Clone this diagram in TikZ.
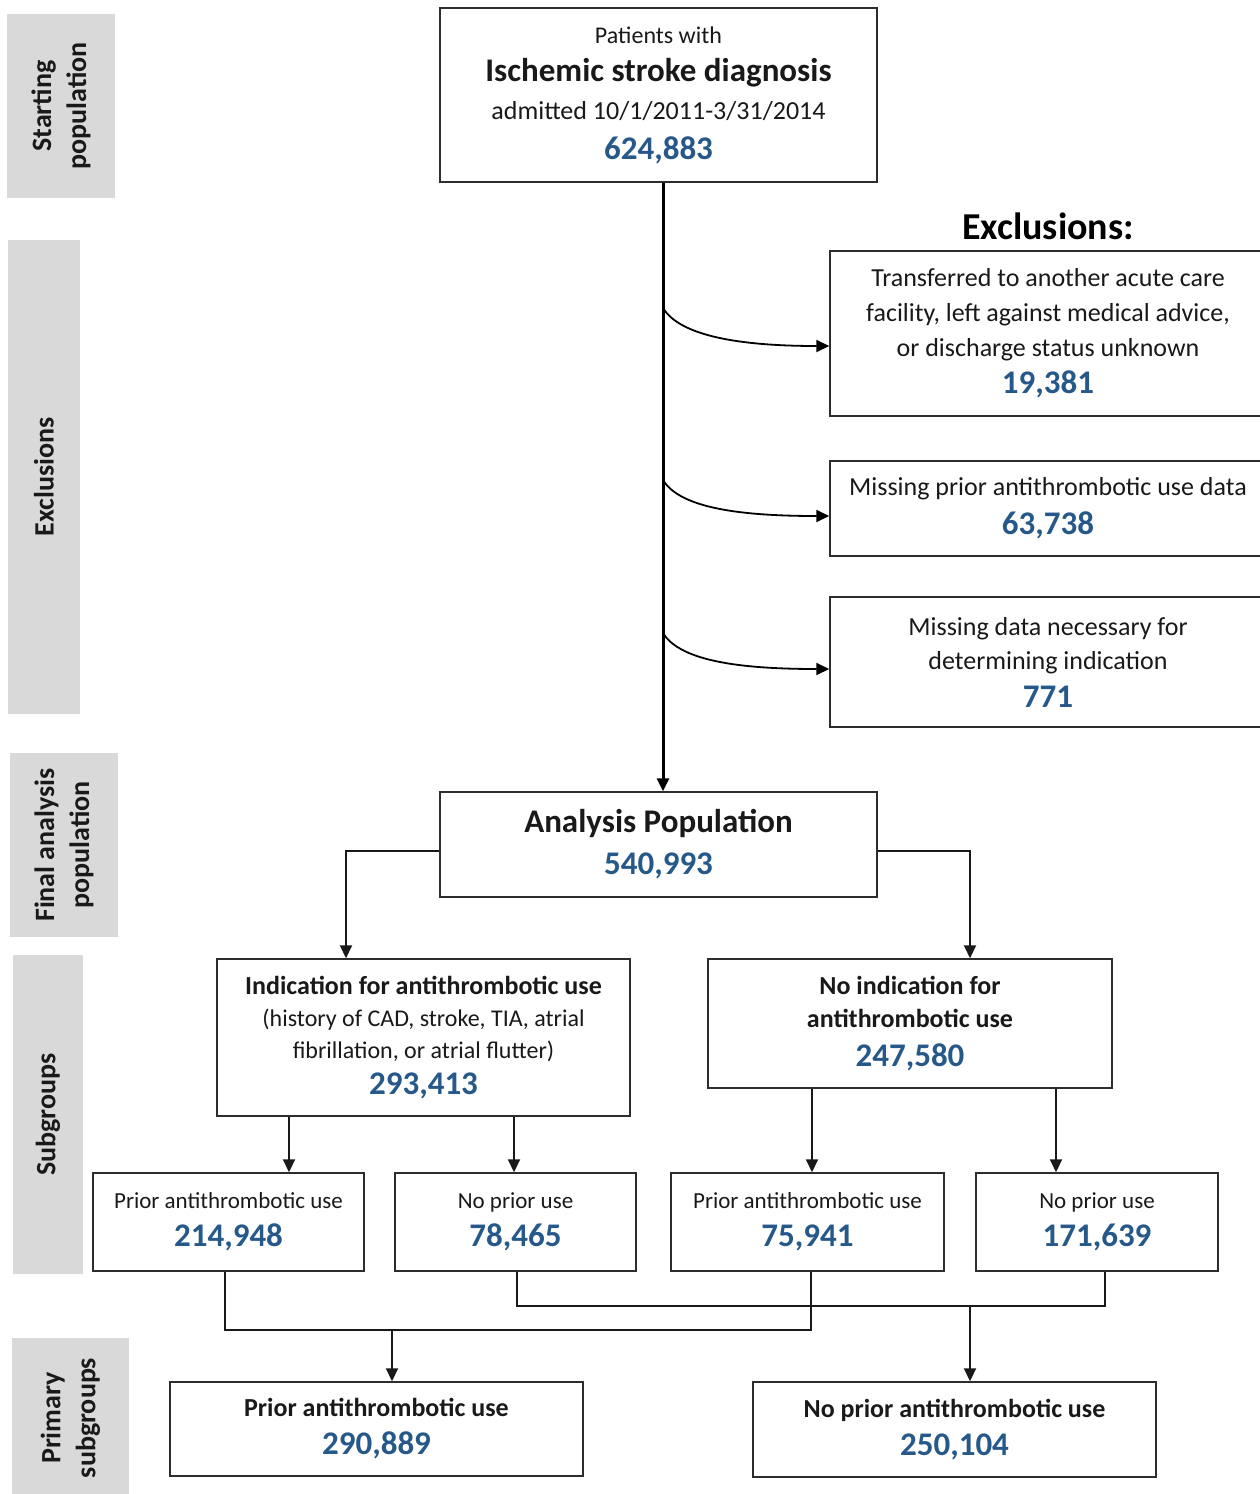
\documentclass[tikz,border=0pt]{standalone}
\usepackage{fontspec}
\setmainfont{Carlito}
\usetikzlibrary{arrows.meta}
\definecolor{numblue}{RGB}{38,89,138}
\definecolor{sidegray}{RGB}{217,217,217}
\definecolor{boxline}{RGB}{45,45,45}
\definecolor{txt}{RGB}{25,25,25}
\newcommand\bignum[1]{{\fontsize{33}{33}\selectfont\bfseries\color{numblue}#1}}
\newcommand\regnum[1]{{\fontsize{33}{33}\selectfont\color{numblue}#1}}
\begin{document}
\begin{tikzpicture}[x=1pt,y=-1pt,
  box/.style={draw=boxline, line width=1.5pt, fill=white, align=center, inner sep=0pt, text=txt},
  side/.style={fill=sidegray, rotate=90, align=center, inner sep=0pt, font=\fontsize{28}{35}\selectfont\bfseries, text=txt},
  conn/.style={line width=2pt, draw=black!90},
  arr/.style={conn, -{Triangle[length=13pt,width=12pt]}},
  mainarr/.style={line width=3pt, draw=black, -{Triangle[length=13pt,width=12pt]}},
  curvarr/.style={line width=1.8pt, draw=black, -{Triangle[length=13pt,width=12pt]}},
]
\fill[white] (0,0) rectangle (1259,1494);
\useasboundingbox (0,0) rectangle (1259,1494);

% side labels
\node[side, minimum width=184pt, minimum height=108pt] (s1) at (61,106) {Starting\\population};
\node[side, minimum width=474pt, minimum height=72pt] (s2) at (44,477) {Exclusions};
\node[side, minimum width=184pt, minimum height=108pt] (s3) at (64,845) {Final analysis\\population};
\node[side, minimum width=319pt, minimum height=70pt] (s4) at (48,1114.5) {Subgroups};
\node[side, minimum width=160pt, minimum height=117pt] (s5) at (70.5,1418) {Primary\\subgroups};

% main boxes
\node[box, minimum width=437pt, minimum height=174pt, font=\fontsize{25}{38}\selectfont] (top) at (658.5,95)
  {{\fontsize{24}{24}\selectfont Patients with}\\
   {\fontsize{33}{33}\selectfont\bfseries Ischemic stroke diagnosis}\\
   {\fontsize{26}{26}\selectfont admitted 10/1/2011-3/31/2014}\\[2pt]
   \bignum{624,883}};

\node[font=\fontsize{38}{38}\selectfont\bfseries, text=black, inner sep=0pt] (exh) at (1048,226) {Exclusions:};

\node[box, minimum width=436pt, minimum height=165pt, font=\fontsize{26}{35}\selectfont] (ex1) at (1048,333.5)
  {Transferred to another acute care\\facility, left against medical advice,\\or discharge status unknown\\[2pt]\bignum{19,381}};
\node[box, minimum width=436pt, minimum height=95pt, font=\fontsize{26}{39}\selectfont] (ex2) at (1048,508.5)
  {Missing prior antithrombotic use data\\\bignum{63,738}};
\node[box, minimum width=436pt, minimum height=130pt, font=\fontsize{26}{34}\selectfont] (ex3) at (1048,662)
  {Missing data necessary for\\determining indication\\[4pt]\bignum{771}};

\node[box, minimum width=437pt, minimum height=105pt, font=\fontsize{33}{42}\selectfont] (anal) at (658.5,844.5)
  {{\bfseries Analysis Population}\\\bignum{540,993}};

\node[box, minimum width=413pt, minimum height=157pt, font=\fontsize{24}{32}\selectfont] (ind) at (423.5,1037.5)
  {{\fontsize{26}{26}\selectfont\bfseries Indication for antithrombotic use}\\
   (history of CAD, stroke, TIA, atrial\\
   fibrillation, or atrial flutter)\\[4pt]
   \bignum{293,413}};
\node[box, minimum width=404pt, minimum height=129pt, font=\fontsize{26}{33}\selectfont\bfseries] (noind) at (910,1023.5)
  {No indication for\\antithrombotic use\\[6pt]\bignum{247,580}};

\node[box, minimum width=271pt, minimum height=98pt, font=\fontsize{23}{38}\selectfont] (a) at (228.5,1222)
  {Prior antithrombotic use\\\bignum{214,948}};
\node[box, minimum width=241pt, minimum height=98pt, font=\fontsize{23}{38}\selectfont] (b) at (515.5,1222)
  {No prior use\\\bignum{78,465}};
\node[box, minimum width=273pt, minimum height=98pt, font=\fontsize{23}{38}\selectfont] (c) at (807.5,1222)
  {Prior antithrombotic use\\\bignum{75,941}};
\node[box, minimum width=242pt, minimum height=98pt, font=\fontsize{23}{38}\selectfont] (d) at (1097,1222)
  {No prior use\\\bignum{171,639}};

\node[box, minimum width=413pt, minimum height=94pt, font=\fontsize{26}{38}\selectfont\bfseries] (prior) at (376.5,1429)
  {Prior antithrombotic use\\\regnum{290,889}};
\node[box, minimum width=403pt, minimum height=95pt, font=\fontsize{26}{38}\selectfont\bfseries] (noprior) at (954.5,1429.5)
  {No prior antithrombotic use\\\regnum{250,104}};

% main vertical arrow
\draw[mainarr] ([xshift=4.5pt]top.south) -- ([xshift=4.5pt]anal.north);

% branch points on main line
\coordinate (b1) at (663,308);
\coordinate (b2) at (663,480);
\coordinate (b3) at (663,633);
\draw[curvarr] (b1) .. controls (680,336) and (740,346) .. ([yshift=-12.5pt]ex1.west);
\draw[curvarr] (b2) .. controls (680,508) and (740,516) .. ([yshift=-7.5pt]ex2.west);
\draw[curvarr] (b3) .. controls (680,661) and (740,669) .. ([yshift=-7pt]ex3.west);

% analysis to subgroups
\draw[arr] ([yshift=-6.5pt]anal.west) -| ([xshift=-77.5pt]ind.north);
\draw[arr] ([yshift=-6.5pt]anal.east) -| ([xshift=60pt]noind.north);

% subgroups to small boxes
\draw[arr] ([xshift=60.5pt]a.north |- ind.south) -- ([xshift=60.5pt]a.north);
\draw[arr] ([xshift=-1.5pt]b.north |- ind.south) -- ([xshift=-1.5pt]b.north);
\draw[arr] ([xshift=4.5pt]c.north |- noind.south) -- ([xshift=4.5pt]c.north);
\draw[arr] ([xshift=-41pt]d.north |- noind.south) -- ([xshift=-41pt]d.north);

% merge to primary subgroups
\coordinate (j1) at (392,1330);
\coordinate (j2) at (970,1306);
\draw[conn] ([xshift=-3.5pt]a.south) |- (j1) -| ([xshift=3.5pt]c.south);
\draw[conn] ([xshift=1.5pt]b.south) |- (j2) -| ([xshift=8pt]d.south);
\draw[arr] (j1) -- (prior.north -| j1);
\draw[arr] (j2) -- (noprior.north -| j2);
\end{tikzpicture}
\end{document}
